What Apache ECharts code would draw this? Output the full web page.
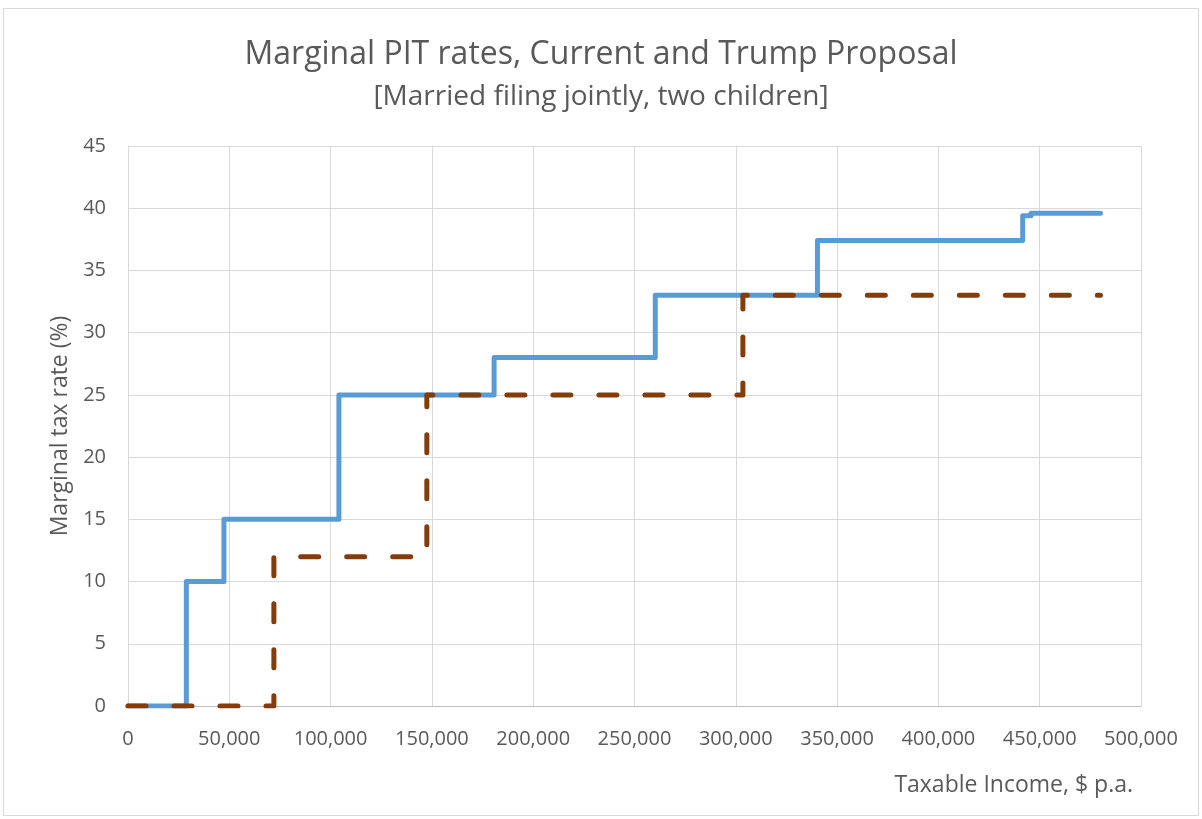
<!DOCTYPE html>
<html>
<head>
<meta charset="utf-8">
<script src="https://cdn.jsdelivr.net/npm/echarts@6/dist/echarts.min.js"></script>
<style>
  html, body { margin: 0; padding: 0; background: #ffffff; }
  #frame { position: absolute; left: 3px; top: 8px; width: 1196px; height: 808px; border: 1px solid #d9d9d9; box-sizing: border-box; }
  #chart { position: absolute; left: 0; top: 0; width: 1202px; height: 819px; }
</style>
</head>
<body>
<div id="frame"></div>
<div id="chart"></div>
<script>
// Current law: taxable income at which each marginal rate starts (% rate)
const currentIncome = [0, 28800, 47350, 104100, 180700, 260250, 340300, 441600, 445700, 480000];
const currentRate   = [0, 10, 15, 25, 28, 33, 37.4, 39.4, 39.6, 39.6];

// Trump proposal
const trumpIncome = [0, 72000, 147500, 303500, 480000];
const trumpRate   = [0, 12, 25, 33, 33];

const xTicks = [0, 50000, 100000, 150000, 200000, 250000, 300000, 350000, 400000, 450000, 500000];
const yTicks = [0, 5, 10, 15, 20, 25, 30, 35, 40, 45];

const FONT = '"Open Sans", "DejaVu Sans", sans-serif';
const TEXT = '#595959';

const pairs = (xs, ys) => xs.map((x, i) => [x, ys[i]]);

const chart = echarts.init(document.getElementById('chart'), null, { renderer: 'canvas' });
chart.setOption({
  animation: false,
  backgroundColor: 'transparent',
  title: {
    text: 'Marginal PIT rates, Current and Trump Proposal',
    subtext: '[Married filing jointly, two children]',
    left: 'center',
    top: 34,
    itemGap: 12,
    textStyle: { fontFamily: FONT, fontSize: 32, fontWeight: 'normal', color: TEXT },
    subtextStyle: { fontFamily: FONT, fontSize: 28, color: TEXT }
  },
  grid: { left: 128, right: 61, top: 146, bottom: 113, containLabel: false },
  xAxis: {
    type: 'value',
    min: xTicks[0],
    max: xTicks[xTicks.length - 1],
    interval: 50000,
    name: 'Taxable Income, $ p.a.',
    nameLocation: 'end',
    nameGap: 0,
    nameTextStyle: { fontFamily: FONT, fontSize: 23, color: TEXT, align: 'right', verticalAlign: 'top', padding: [68, 8, 0, 0] },
    axisLine: { show: true, lineStyle: { color: '#bfbfbf', width: 1 } },
    axisTick: { show: false },
    splitLine: { show: true, lineStyle: { color: '#d9d9d9', width: 1 } },
    axisLabel: {
      fontFamily: FONT, fontSize: 20, color: TEXT, margin: 23,
      formatter: v => v.toLocaleString('en-US')
    }
  },
  yAxis: {
    type: 'value',
    min: yTicks[0],
    max: yTicks[yTicks.length - 1],
    interval: 5,
    name: 'Marginal tax rate (%)',
    nameLocation: 'middle',
    nameGap: 56,
    nameRotate: 90,
    nameTextStyle: { fontFamily: FONT, fontSize: 23, color: TEXT },
    axisLine: { show: false },
    axisTick: { show: false },
    splitLine: { show: true, lineStyle: { color: '#d9d9d9', width: 1 } },
    axisLabel: { fontFamily: FONT, fontSize: 20, color: TEXT, margin: 22 }
  },
  series: [
    {
      name: 'Current',
      type: 'line',
      step: 'end',
      data: pairs(currentIncome, currentRate),
      showSymbol: false,
      symbol: 'none',
      lineStyle: { color: '#5b9bd5', width: 5, join: 'round', cap: 'round' },
      z: 2
    },
    {
      name: 'Trump Proposal',
      type: 'line',
      step: 'end',
      data: pairs(trumpIncome, trumpRate),
      showSymbol: false,
      symbol: 'none',
      lineStyle: { color: '#843c0c', width: 5, type: [18, 28], cap: 'round', join: 'round' },
      z: 3
    }
  ]
});
</script>
</body>
</html>
